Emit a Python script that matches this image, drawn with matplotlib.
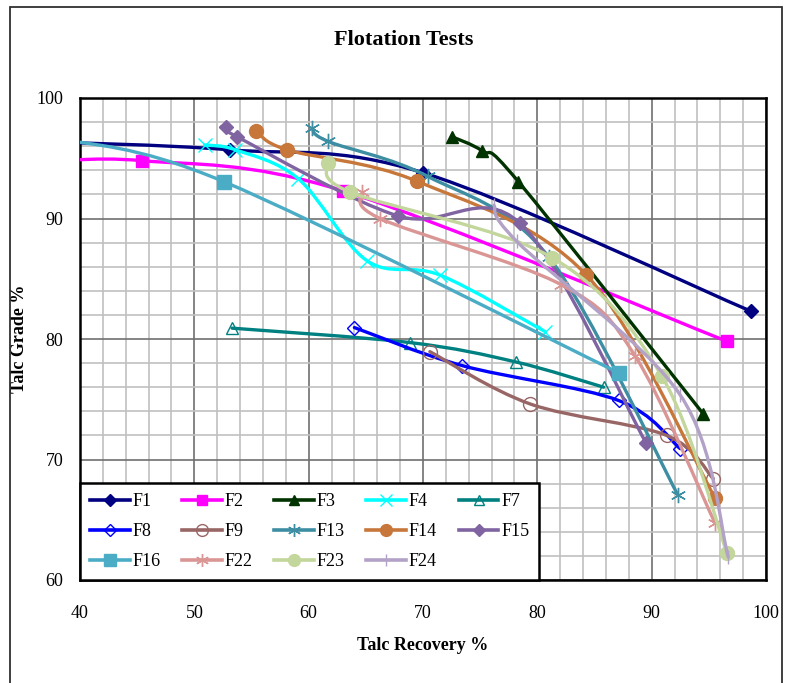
import numpy as np
import matplotlib
matplotlib.use("Agg")
from matplotlib import pyplot as plt
from matplotlib.path import Path
from matplotlib.patches import PathPatch, Rectangle
from matplotlib.lines import Line2D
from matplotlib.ticker import MultipleLocator

plt.rcParams['font.family'] = ['Liberation Serif', 'DejaVu Serif']

# test series: talc recovery % (x) and talc grade % (y)
f1_x = [36.0, 53.1, 70.0, 98.7]
f1_y = [96.4, 95.7, 93.8, 82.3]
f2_x = [36.0, 45.4, 63.0, 96.6]
f2_y = [94.6, 94.8, 92.3, 79.8]
f3_x = [72.5, 75.2, 78.35, 94.5]
f3_y = [96.8, 95.6, 93.05, 73.8]
f4_x = [50.9, 53.6, 59.1, 65.1, 71.5, 80.7]
f4_y = [96.1, 95.7, 93.3, 86.5, 85.3, 80.6]
f7_x = [53.3, 68.9, 78.1, 85.8]
f7_y = [80.9, 79.7, 78.1, 76.0]
f8_x = [64.0, 73.4, 87.1, 92.5]
f8_y = [80.95, 77.8, 74.9, 70.9]
f9_x = [70.6, 79.4, 91.3, 95.4]
f9_y = [78.95, 74.6, 72.0, 68.4]
f13_x = [60.3, 61.7, 70.4, 81.0, 92.3]
f13_y = [97.5, 96.4, 93.5, 86.8, 67.05]
f14_x = [55.4, 58.1, 69.45, 84.3, 95.55]
f14_y = [97.3, 95.7, 93.1, 85.3, 66.8]
f15_x = [52.8, 53.7, 67.85, 78.5, 89.5]
f15_y = [97.6, 96.8, 90.2, 89.6, 71.4]
f16_x = [38.5, 52.6, 87.1]
f16_y = [96.6, 93.05, 77.2]
f22_x = [64.7, 66.25, 82.1, 88.55, 95.55]
f22_y = [92.2, 90.0, 84.5, 78.6, 64.7]
f23_x = [61.7, 63.6, 81.3, 90.9, 96.6]
f23_y = [94.6, 92.2, 86.75, 76.9, 62.2]
f24_x = [76.2, 78.2, 92.5, 96.7]
f24_y = [91.1, 88.1, 75.35, 61.9]

series = [
    ('F1', f1_x, f1_y, '#000080', 'D', 7, True),
    ('F2', f2_x, f2_y, '#FF00FF', 's', 9, True),
    ('F3', f3_x, f3_y, '#003300', '^', 9, True),
    ('F4', f4_x, f4_y, '#00FFFF', 'x', 10, True),
    ('F7', f7_x, f7_y, '#008080', '^', 9, False),
    ('F8', f8_x, f8_y, '#0000FF', 'D', 7, False),
    ('F9', f9_x, f9_y, '#996666', 'o', 10, False),
    ('F13', f13_x, f13_y, '#3D8EA3', (6, 2, 0), 11, True),
    ('F14', f14_x, f14_y, '#C8773A', 'o', 10, True),
    ('F15', f15_x, f15_y, '#8064A2', 'D', 7, True),
    ('F16', f16_x, f16_y, '#4BACC6', 's', 10, True),
    ('F22', f22_x, f22_y, '#D99694', (6, 2, 0), 11, True),
    ('F23', f23_x, f23_y, '#C3D69B', 'o', 10, True),
    ('F24', f24_x, f24_y, '#B3A2C7', '|', 10, True),
]


def smooth_path(xs, ys):
    # excel-like smoothed line: cubic bezier through the points
    pts = np.column_stack([xs, ys]).astype(float)
    n = len(pts)
    verts = [pts[0]]
    codes = [Path.MOVETO]
    for i in range(n - 1):
        p0 = pts[i - 1] if i > 0 else pts[i]
        p1 = pts[i]
        p2 = pts[i + 1]
        p3 = pts[i + 2] if i + 2 < n else pts[i + 1]
        verts += [p1 + (p2 - p0) / 6, p2 - (p3 - p1) / 6, p2]
        codes += [Path.CURVE4] * 3
    return Path(verts, codes)


fig = plt.figure(figsize=(7.91, 6.83), dpi=100)
ax = fig.add_axes([80 / 791, 1 - 580 / 683, 686 / 791, 482 / 683])

handles = []
for i, (name, xs, ys, color, marker, ms, filled) in enumerate(series):
    z = 3 + i * 0.1
    ax.add_patch(PathPatch(smooth_path(xs, ys), fill=False, edgecolor=color,
                           lw=2.4, zorder=z, capstyle='round', joinstyle='round'))
    face = color if filled else 'none'
    ax.plot(xs, ys, ls='none', marker=marker, ms=ms, mfc=face, mec=color,
            mew=1.0, zorder=z + 0.05)
    handles.append(Line2D([], [], color=color, lw=2.6, marker=marker, ms=ms * 0.85,
                          mfc=face, mec=color, mew=1.0, label=name))

ax.set_xlim(40, 100)
ax.set_ylim(60, 100)
ax.xaxis.set_major_locator(MultipleLocator(10))
ax.yaxis.set_major_locator(MultipleLocator(10))
ax.xaxis.set_minor_locator(MultipleLocator(2))
ax.yaxis.set_minor_locator(MultipleLocator(2))
ax.grid(which='minor', color='#C0C0C0', lw=1.2)
ax.grid(which='major', color='#707070', lw=1.2)
ax.set_axisbelow(True)
ax.tick_params(which='both', length=0, labelsize=13)
ax.tick_params(axis='x', pad=18)
ax.tick_params(axis='y', pad=12)
for sp in ax.spines.values():
    sp.set_linewidth(1.8)
    sp.set_color('black')

ax.set_xlabel('Talc Recovery %', fontsize=13, fontweight='bold')
ax.set_ylabel('Talc Grade %', fontsize=13, fontweight='bold')
ax.xaxis.set_label_coords(0.5, -57 / 482)
ax.yaxis.set_label_coords(-52 / 686, 0.5)
fig.text(404 / 791, 1 - 40 / 683, 'Flotation Tests', ha='center', va='center',
         fontsize=16, fontweight='bold')

# legend is filled row by row in the reference
order = [0, 5, 10, 1, 6, 11, 2, 7, 12, 3, 8, 13, 4, 9]
leg = ax.legend([handles[k] for k in order], [handles[k].get_label() for k in order],
                ncol=5, loc='lower left', bbox_to_anchor=(0.0, 0.0), fontsize=13,
                frameon=True, fancybox=False, framealpha=1, edgecolor='black',
                handlelength=2.2, handletextpad=0.15, columnspacing=1.2,
                labelspacing=0.72, borderpad=0.55, borderaxespad=0.0)
leg.get_frame().set_linewidth(1.8)
leg.set_zorder(10)

fig.patches.append(Rectangle((10 / 791, -5 / 683), 772 / 791, 681 / 683,
                             transform=fig.transFigure, fill=False,
                             edgecolor='#303030', lw=1.3))

fig.savefig('out.png', dpi=100)
